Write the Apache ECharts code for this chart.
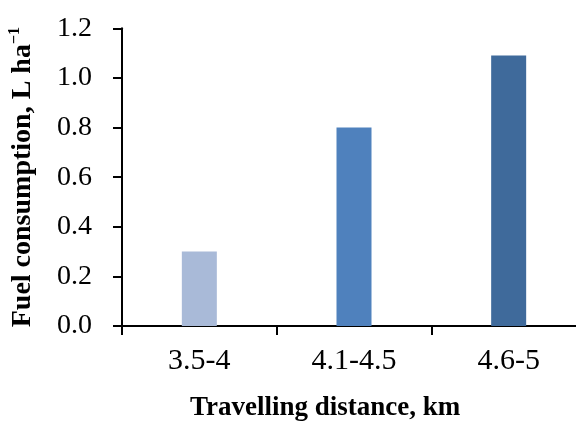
<!DOCTYPE html>
<html>
<head>
<meta charset="utf-8">
<script src="https://cdn.jsdelivr.net/npm/echarts@6/dist/echarts.min.js"></script>
<style>
  html, body { margin: 0; padding: 0; background: #fff; }
  #chart { width: 576px; height: 421px; }
</style>
</head>
<body>
<div id="chart"></div>
<script>
// ---- data ----
const categories = ['3.5-4', '4.1-4.5', '4.6-5'];
const fuelConsumption = [0.30, 0.80, 1.09];
const yTicks = { min: 0, max: 1.2, interval: 0.2 };
const xTitle = 'Travelling distance, km';
const yTitleMain = 'Fuel consumption, L ha';
const yTitleSup = '\u22121';

// ---- style ----
const barColors = ['#A9BAD8', '#4F81BD', '#3F6A9B'];
const serif = '"Liberation Serif", "Times New Roman", serif';

const chart = echarts.init(document.getElementById('chart'), null, { renderer: 'canvas' });
chart.setOption({
  animation: false,
  backgroundColor: '#ffffff',
  title: {
    text: xTitle,
    left: 190,
    top: 395,
    padding: 0,
    textStyle: { fontFamily: serif, fontWeight: 'bold', fontSize: 27, color: '#000' }
  },
  grid: {
    left: 122, width: 464, top: 28.3, bottom: 95,
    containLabel: false, outerBoundsMode: 'none'
  },
  xAxis: {
    type: 'category',
    data: categories,
    axisLine: { lineStyle: { color: '#000', width: 2 } },
    axisTick: { show: true, length: 9, lineStyle: { color: '#000', width: 2 } },
    axisLabel: { fontFamily: serif, fontSize: 30, color: '#000', margin: 20 },
    splitLine: { show: false }
  },
  yAxis: {
    type: 'value',
    min: yTicks.min,
    max: yTicks.max,
    interval: yTicks.interval,
    name: '{m|' + yTitleMain + '}{s|' + yTitleSup + '}',
    nameLocation: 'middle',
    nameGap: 83,
    nameRotate: 90,
    nameTextStyle: {
      rich: {
        m: { fontFamily: serif, fontWeight: 'bold', fontSize: 28, color: '#000', lineHeight: 32 },
        s: { fontFamily: serif, fontWeight: 'bold', fontSize: 16, color: '#000', verticalAlign: 'top', lineHeight: 32 }
      }
    },
    axisLine: { show: true, lineStyle: { color: '#000', width: 2 } },
    axisTick: { show: true, length: 9, lineStyle: { color: '#000', width: 2 } },
    axisLabel: {
      fontFamily: serif, fontSize: 28, color: '#000', margin: 30,
      formatter: function (v) { return v.toFixed(1); }
    },
    splitLine: { show: false }
  },
  series: [{
    type: 'bar',
    data: fuelConsumption.map(function (v, i) {
      return { value: v, itemStyle: { color: barColors[i] } };
    }),
    barWidth: 35
  }]
});
</script>
</body>
</html>
